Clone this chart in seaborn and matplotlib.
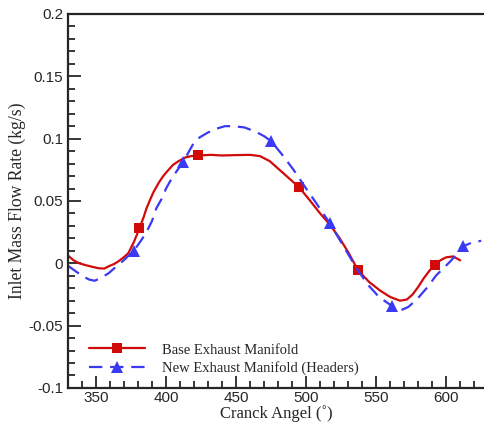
import numpy as np
import pandas as pd
import matplotlib
matplotlib.use("Agg")
import matplotlib.pyplot as plt
import seaborn as sns
from matplotlib.ticker import MultipleLocator, FuncFormatter

# === Data ===
base_angle = [330, 334, 338, 343, 348, 352, 356, 359, 363, 366, 370, 373, 377, 381, 384,
              386, 389, 391, 395, 398, 401, 405, 409, 414, 418, 423, 432, 440, 450, 460,
              467, 474, 480, 487, 495, 503, 510, 517, 524, 530, 537, 545, 553, 560, 567,
              572, 576, 580, 584, 588, 592, 596, 600, 605, 610]
base_flow = [0.0062, 0.0024, 0.0, -0.0016, -0.003, -0.004, -0.0042, -0.0024, -0.0005,
             0.0016, 0.005, 0.008, 0.017, 0.028, 0.037, 0.044, 0.052, 0.057, 0.065, 0.070,
             0.074, 0.079, 0.082, 0.085, 0.086, 0.0865, 0.087, 0.0865, 0.0868, 0.087,
             0.086, 0.082, 0.076, 0.069, 0.061, 0.050, 0.040, 0.031, 0.020, 0.009, -0.0055,
             -0.015, -0.022, -0.027, -0.030, -0.029, -0.025, -0.019, -0.012, -0.006,
             -0.001, 0.0025, 0.0048, 0.0055, 0.0024]
base_markers = [381, 423, 495, 537, 592]

new_angle = [330, 335, 340, 345, 349, 353, 359, 364, 369, 377, 382, 386, 390, 393, 397,
             400, 404, 407, 412, 416, 420, 424, 430, 436, 442, 448, 456, 464, 470, 475,
             483, 491, 500, 508, 517, 526, 536, 544, 552, 561, 567, 573, 579, 586, 593,
             598, 603, 608, 612, 617, 622, 625]
new_flow = [-0.002, -0.006, -0.010, -0.013, -0.014, -0.012, -0.008, -0.003, 0.0016, 0.010,
            0.018, 0.025, 0.034, 0.044, 0.052, 0.060, 0.068, 0.073, 0.081, 0.089, 0.097,
            0.101, 0.105, 0.108, 0.110, 0.110, 0.109, 0.1055, 0.102, 0.098, 0.087, 0.075,
            0.060, 0.047, 0.032, 0.015, -0.004, -0.017, -0.027, -0.034, -0.038, -0.035,
            -0.029, -0.020, -0.0095, -0.004, 0.0016, 0.008, 0.0135, 0.016, 0.0175, 0.018]
new_markers = [377, 412, 475, 517, 561, 612]

labels = ["Base Exhaust Manifold", "New Exhaust Manifold (Headers)"]

base_df = pd.DataFrame({"angle": base_angle, "flow": base_flow})
new_df = pd.DataFrame({"angle": new_angle, "flow": new_flow})

sns.set_style("ticks")
serif = ["Liberation Serif", "DejaVu Serif"]
sans = ["Liberation Sans", "DejaVu Sans"]
plt.rcParams["font.family"] = sans

fig = plt.figure(figsize=(4.84, 4.24), dpi=100)
ax = fig.add_axes([0.1405, 0.085, 0.8595, 0.882])

sns.lineplot(data=base_df, x="angle", y="flow", ax=ax, sort=False, color="#d10a0a",
             linewidth=1.6, marker="s", markersize=7.5,
             markevery=[base_angle.index(a) for a in base_markers],
             markeredgewidth=0, label=labels[0])
sns.lineplot(data=new_df, x="angle", y="flow", ax=ax, sort=False, color="#3a3af5",
             linewidth=1.6, linestyle=(0, (6, 3.5)), marker="^", markersize=9,
             markevery=[new_angle.index(a) for a in new_markers],
             markeredgewidth=0, label=labels[1])

ax.set_xlim(330, 627)
ax.set_ylim(-0.1, 0.2)
ax.xaxis.set_major_locator(MultipleLocator(50))
ax.xaxis.set_minor_locator(MultipleLocator(10))
ax.yaxis.set_major_locator(MultipleLocator(0.05))
ax.yaxis.set_minor_locator(MultipleLocator(0.01))
ax.yaxis.set_major_formatter(FuncFormatter(lambda v, p: "%g" % round(v, 3)))
ax.tick_params(which="both", direction="in", top=False, right=False, width=1.3,
               labelsize=11)
ax.tick_params(which="major", length=9)
ax.tick_params(which="minor", length=5)
ax.tick_params(axis="x", pad=2)

for s in ["left", "bottom", "top"]:
    ax.spines[s].set_linewidth(1.6)
ax.spines["right"].set_visible(False)

ax.set_xlabel("Cranck Angel (˚)", fontsize=12, family=serif, labelpad=0)
ax.set_ylabel("Inlet Mass Flow Rate (kg/s)", fontsize=12.7, family=serif, labelpad=2)

leg = ax.legend(loc="lower left", bbox_to_anchor=(0.02, 0.0), frameon=False,
                prop={"family": serif, "size": 10.5}, handlelength=3.8,
                handletextpad=1.2, labelspacing=0.3)

fig.savefig("out.png", dpi=100)
